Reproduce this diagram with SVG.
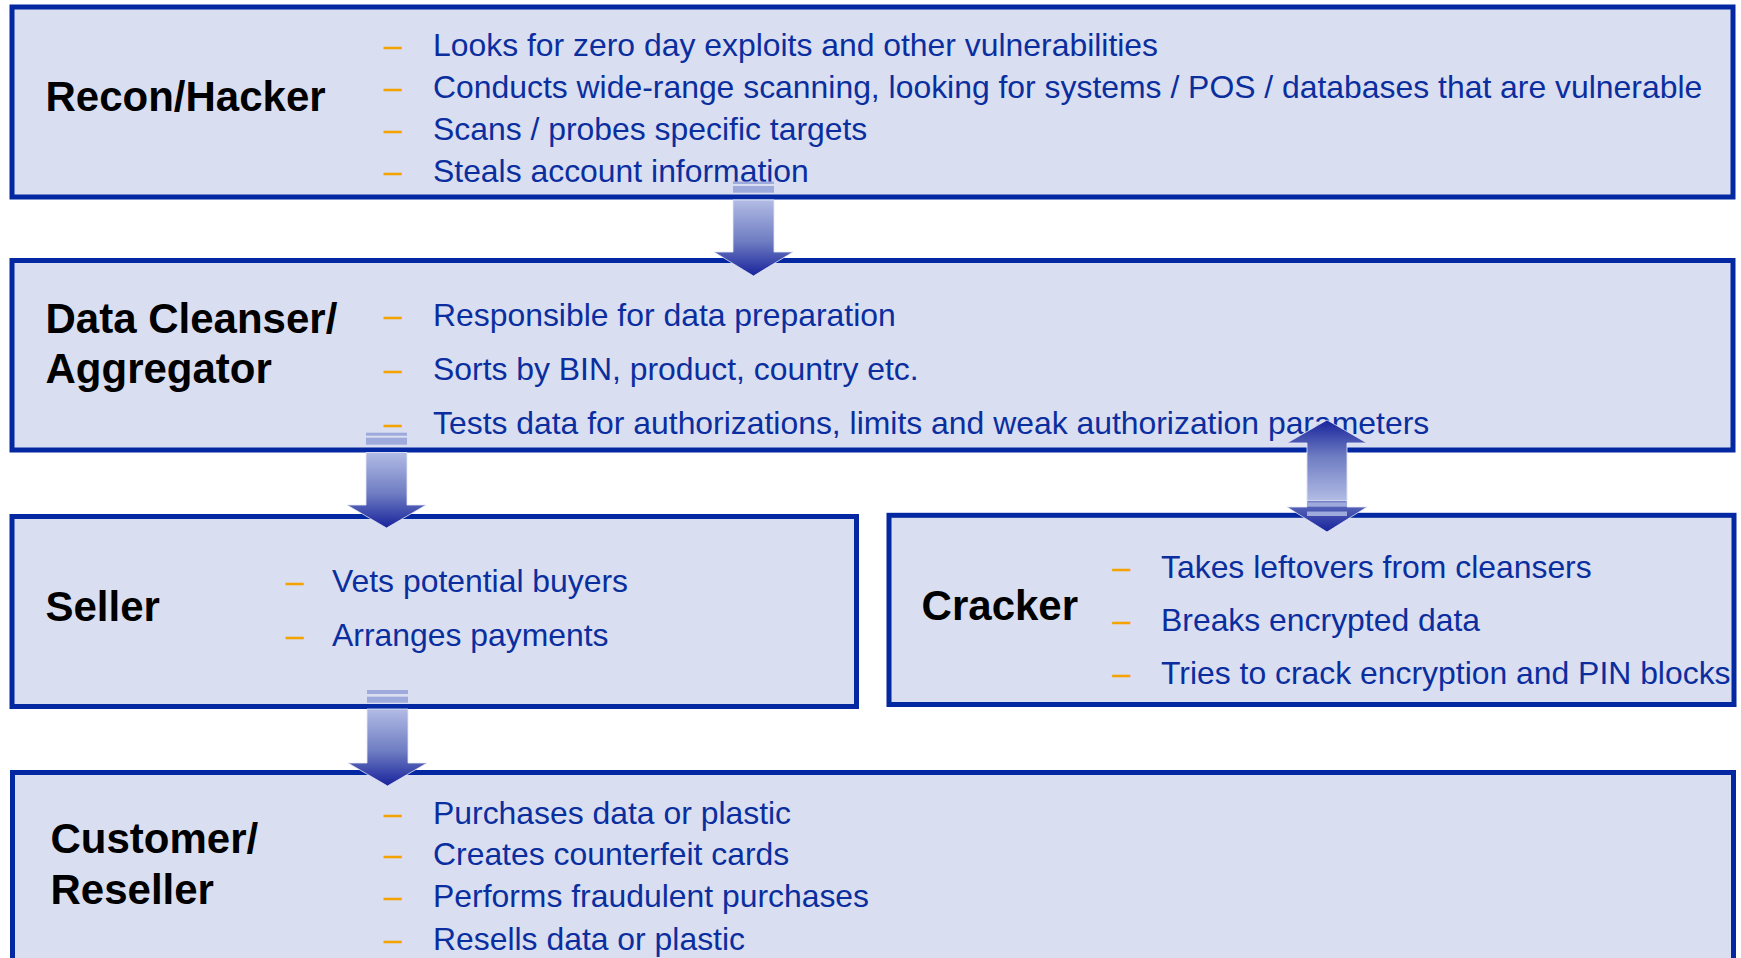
<svg xmlns="http://www.w3.org/2000/svg" width="1741" height="958" viewBox="0 0 1741 958">
  <defs>
    <style>
      .box { fill: #d9def1; stroke: #0328a2; stroke-width: 5; }
      .title { font-family: "Liberation Sans", Arial, sans-serif; font-weight: bold; font-size: 42px; fill: #000000; }
      .item { font-family: "Liberation Sans", Arial, sans-serif; font-size: 31.9px; fill: #0b2e9f; }
      .dash { font-family: "Liberation Sans", Arial, sans-serif; font-size: 32px; fill: #f5a300; stroke: #f5a300; stroke-width: 0.4; }
      .stripe { fill: #9eaadc; }
      .arrow { stroke: #e6e9f6; stroke-width: 0.8; }
    </style>
    <linearGradient id="gradDown" x1="0" y1="0" x2="0" y2="1">
      <stop offset="0" stop-color="#b2bce5"/>
      <stop offset="0.55" stop-color="#6e7cc2"/>
      <stop offset="1" stop-color="#18239b"/>
    </linearGradient>
    <linearGradient id="gradUp" x1="0" y1="1" x2="0" y2="0">
      <stop offset="0" stop-color="#b2bce5"/>
      <stop offset="0.55" stop-color="#6e7cc2"/>
      <stop offset="1" stop-color="#18239b"/>
    </linearGradient>
  </defs>

  <rect width="1741" height="958" fill="#ffffff"/>

  <!-- Recon / Hacker -->
  <g id="recon">
    <rect class="box" x="12" y="7" width="1721" height="190"/>
    <text class="title" x="45.5" y="111">Recon/Hacker</text>
    <text class="dash" x="384" y="55.5">–</text>
    <text class="item" x="433" y="55.5">Looks for zero day exploits and other vulnerabilities</text>
    <text class="dash" x="384" y="97.7">–</text>
    <text class="item" x="433" y="97.7">Conducts wide-range scanning, looking for systems / POS / databases that are vulnerable</text>
    <text class="dash" x="384" y="139.8">–</text>
    <text class="item" x="433" y="139.8">Scans / probes specific targets</text>
    <text class="dash" x="384" y="182">–</text>
    <text class="item" x="433" y="182">Steals account information</text>
  </g>

  <!-- Data Cleanser / Aggregator -->
  <g id="cleanser">
    <rect class="box" x="12" y="260.5" width="1721" height="189.5"/>
    <text class="title" x="45.5" y="332.7">Data Cleanser/</text>
    <text class="title" x="45.5" y="383">Aggregator</text>
    <text class="dash" x="384" y="326">–</text>
    <text class="item" x="433" y="326">Responsible for data preparation</text>
    <text class="dash" x="384" y="379.5">–</text>
    <text class="item" x="433" y="379.5">Sorts by BIN, product, country etc.</text>
    <text class="dash" x="384" y="434">–</text>
    <text class="item" x="433" y="434">Tests data for authorizations, limits and weak authorization parameters</text>
  </g>

  <!-- Seller -->
  <g id="seller">
    <rect class="box" x="12" y="516.5" width="844.5" height="190"/>
    <text class="title" x="45.5" y="621">Seller</text>
    <text class="dash" x="286" y="591.5">–</text>
    <text class="item" x="332" y="591.5">Vets potential buyers</text>
    <text class="dash" x="286" y="645.5">–</text>
    <text class="item" x="332" y="645.5">Arranges payments</text>
  </g>

  <!-- Cracker -->
  <g id="cracker">
    <rect class="box" x="889" y="515.3" width="845" height="189.2"/>
    <text class="title" x="921.6" y="619.5">Cracker</text>
    <text class="dash" x="1112.5" y="578">–</text>
    <text class="item" x="1161" y="578">Takes leftovers from cleansers</text>
    <text class="dash" x="1112.5" y="631">–</text>
    <text class="item" x="1161" y="631">Breaks encrypted data</text>
    <text class="dash" x="1112.5" y="683.5">–</text>
    <text class="item" x="1161" y="683.5">Tries to crack encryption and PIN blocks</text>
  </g>

  <!-- Customer / Reseller (runs past the bottom edge) -->
  <g id="customer">
    <rect class="box" x="12.5" y="772.5" width="1721" height="220"/>
    <text class="title" x="50.5" y="852.7">Customer/</text>
    <text class="title" x="50.5" y="904">Reseller</text>
    <text class="dash" x="384" y="823.5">–</text>
    <text class="item" x="433" y="823.5">Purchases data or plastic</text>
    <text class="dash" x="384" y="865">–</text>
    <text class="item" x="433" y="865">Creates counterfeit cards</text>
    <text class="dash" x="384" y="906.7">–</text>
    <text class="item" x="433" y="906.7">Performs fraudulent purchases</text>
    <text class="dash" x="384" y="950">–</text>
    <text class="item" x="433" y="950">Resells data or plastic</text>
  </g>

  <!-- Striped block arrows between the stages -->
  <g id="connectors">
    <!-- Recon/Hacker to Data Cleanser -->
    <g id="arrow-recon-cleanser">
      <rect class="stripe" x="733" y="181.5" width="41" height="2.5"/>
      <rect class="stripe" x="733" y="186" width="41" height="6.7"/>
      <polygon class="arrow" fill="url(#gradDown)" points="733,200 774,200 774,252 793,252 753.5,276 714,252 733,252"/>
    </g>

    <!-- Data Cleanser to Seller -->
    <g id="arrow-cleanser-seller">
      <rect class="stripe" x="366" y="432.7" width="41" height="3"/>
      <rect class="stripe" x="366" y="437.7" width="41" height="7"/>
      <polygon class="arrow" fill="url(#gradDown)" points="366,452.5 407,452.5 407,505 426,505 386.5,528 347,505 366,505"/>
    </g>

    <!-- Seller to Customer/Reseller -->
    <g id="arrow-seller-customer">
      <rect class="stripe" x="367" y="690" width="41" height="4"/>
      <rect class="stripe" x="367" y="696.7" width="41" height="6"/>
      <polygon class="arrow" fill="url(#gradDown)" points="367,709 408,709 408,763 427,763 387.5,786 348,763 367,763"/>
    </g>

    <!-- Data Cleanser and Cracker, both directions -->
    <g id="arrow-cleanser-cracker">
      <polygon class="arrow" fill="url(#gradDown)" points="1307,452 1347,452 1347,507 1367,507 1327,532 1287,507 1307,507"/>
      <polygon class="arrow" fill="url(#gradUp)" points="1327,420 1367,443 1347,443 1347,500.7 1307,500.7 1307,443 1287,443"/>
      <rect class="stripe" x="1307" y="502.3" width="40" height="4.4"/>
      <rect class="stripe" x="1307" y="511.5" width="40" height="4.5"/>
    </g>
  </g>
</svg>
